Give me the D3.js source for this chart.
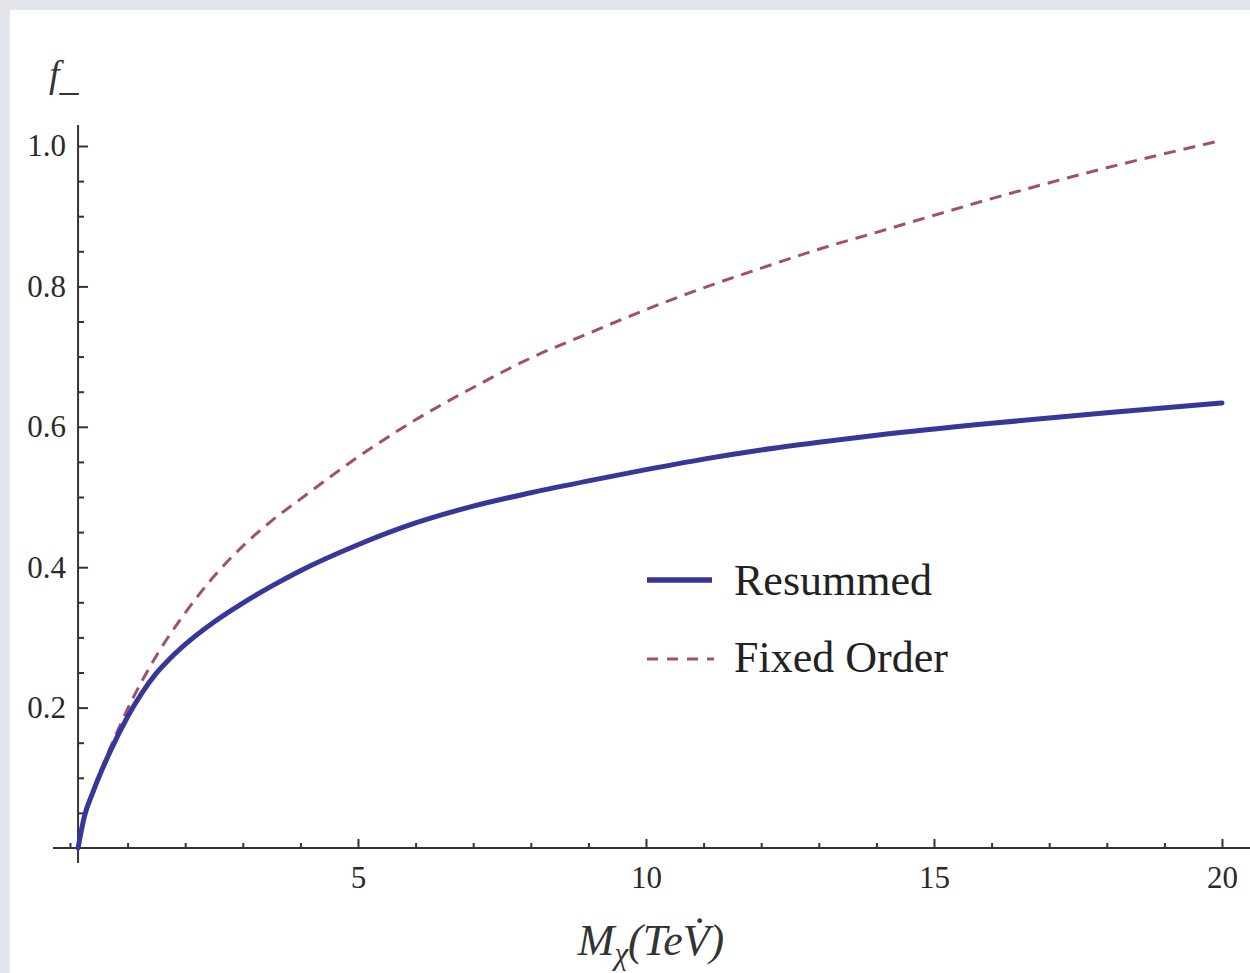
<!DOCTYPE html>
<html>
<head>
<meta charset="utf-8">
<script src="https://cdn.jsdelivr.net/npm/d3@7"></script>
<style>
  html, body { margin: 0; padding: 0; background: #e3e6eb; }
  svg { display: block; }
</style>
</head>
<body>
<svg id="chart" width="1250" height="973"></svg>
<script>
// ---- data ----
const massTeV = [0.14, 0.25, 0.4, 0.7, 1.0, 1.25, 1.5, 1.75, 2.0, 2.5, 3.0, 3.5, 4.0, 5.0, 6.0, 7.0, 8.0, 9.0, 10.0, 11.0, 12.0, 13.0, 14.0, 16.0, 18.0, 20.0];
const resummed = [0.0, 0.045, 0.08, 0.138, 0.187, 0.221, 0.249, 0.271, 0.29, 0.322, 0.349, 0.373, 0.395, 0.432, 0.463, 0.487, 0.506, 0.523, 0.539, 0.554, 0.567, 0.578, 0.588, 0.605, 0.62, 0.634];
const fixedOrder = [0.0, 0.046, 0.082, 0.143, 0.198, 0.238, 0.274, 0.306, 0.335, 0.387, 0.43, 0.466, 0.497, 0.557, 0.61, 0.656, 0.698, 0.733, 0.767, 0.798, 0.826, 0.853, 0.877, 0.925, 0.969, 1.008];
const xMajorTicks = [5, 10, 15, 20];
const xMinorTicks = d3.range(0, 21, 1);
const yMajorTicks = [0.2, 0.4, 0.6, 0.8, 1.0];
const yMinorTicks = d3.range(1, 20).map(i => i * 0.05);
const seriesNames = ["Resummed", "Fixed Order"];

// ---- layout ----
const svg = d3.select("#chart");
svg.append("rect").attr("x", 10).attr("y", 10).attr("width", 1240).attr("height", 963).attr("fill", "#ffffff");

const x = d3.scaleLinear().domain([0, 20]).range([70, 1222]);
const y = d3.scaleLinear().domain([0, 1]).range([848, 146]);

const axisColor = "#333333";
const font = "'Liberation Serif', 'Times New Roman', serif";

// axis lines
svg.append("line").attr("x1", 53).attr("x2", 1250).attr("y1", y(0)).attr("y2", y(0))
  .attr("stroke", axisColor).attr("stroke-width", 2);
svg.append("line").attr("x1", x(0.14)).attr("x2", x(0.14)).attr("y1", 125).attr("y2", 863)
  .attr("stroke", axisColor).attr("stroke-width", 2);

// x axis ticks
const gxMinor = svg.append("g").attr("transform", `translate(0,${y(0)})`)
  .call(d3.axisBottom(x).tickValues(xMinorTicks.filter(v => v % 5 !== 0 || v === 0)).tickSizeInner(-5).tickSizeOuter(0).tickFormat(""));
const gxMajor = svg.append("g").attr("transform", `translate(0,${y(0)})`)
  .call(d3.axisBottom(x).tickValues(xMajorTicks).tickSizeInner(-9).tickSizeOuter(0).tickPadding(18).tickFormat(d3.format("d")));

// y axis ticks
const gyMinor = svg.append("g").attr("transform", `translate(${x(0.14)},0)`)
  .call(d3.axisLeft(y).tickValues(yMinorTicks.filter(v => Math.abs(v * 5 - Math.round(v * 5)) > 1e-6)).tickSizeInner(-6).tickSizeOuter(0).tickFormat(""));
const gyMajor = svg.append("g").attr("transform", `translate(${x(0.14)},0)`)
  .call(d3.axisLeft(y).tickValues(yMajorTicks).tickSizeInner(-10).tickSizeOuter(0).tickPadding(12).tickFormat(d3.format(".1f")));

[gxMinor, gxMajor, gyMinor, gyMajor].forEach(g => {
  g.select(".domain").remove();
  g.selectAll(".tick line").attr("stroke", axisColor).attr("stroke-width", 2);
  g.selectAll(".tick text").attr("fill", "#2a2a2a").style("font-family", font).style("font-size", "31px");
});
gxMajor.selectAll(".tick text").attr("dy", "0.71em");

// curves
const line = d3.line().x(d => x(d[0])).y(d => y(d[1])).curve(d3.curveMonotoneX);
svg.append("path").datum(massTeV.map((m, i) => [m, fixedOrder[i]]))
  .attr("d", line).attr("fill", "none").attr("stroke", "#a0506e")
  .attr("stroke-width", 3).attr("stroke-dasharray", "12,8");
svg.append("path").datum(massTeV.map((m, i) => [m, resummed[i]]))
  .attr("d", line).attr("fill", "none").attr("stroke", "#37379a")
  .attr("stroke-width", 5).attr("stroke-linecap", "round");

// legend
const leg = svg.append("g");
leg.append("line").attr("x1", 647).attr("x2", 712).attr("y1", 580).attr("y2", 580)
  .attr("stroke", "#37379a").attr("stroke-width", 5.5);
leg.append("line").attr("x1", 647).attr("x2", 714).attr("y1", 659).attr("y2", 659)
  .attr("stroke", "#a0506e").attr("stroke-width", 3).attr("stroke-dasharray", "11,9");
leg.append("text").attr("x", 734).attr("y", 595).text(seriesNames[0])
  .attr("fill", "#222").style("font-family", font).style("font-size", "44px");
leg.append("text").attr("x", 734).attr("y", 672).text(seriesNames[1])
  .attr("fill", "#222").style("font-family", font).style("font-size", "44px");

// axis labels
const yl = svg.append("text").attr("x", 49).attr("y", 87).attr("fill", "#333")
  .style("font-family", font).style("font-size", "38px").style("font-style", "italic");
yl.append("tspan").text("f");
yl.append("tspan").attr("dy", "3").style("font-style", "normal").text("_");

const xl = svg.append("text").attr("x", 651).attr("y", 955).attr("text-anchor", "middle").attr("fill", "#333")
  .style("font-family", font).style("font-size", "44px").style("font-style", "italic");
xl.append("tspan").text("M");
xl.append("tspan").attr("dy", "9").style("font-size", "31px").text("χ");
xl.append("tspan").attr("dy", "-9").text("(TeV\u0307)");
</script>
</body>
</html>
